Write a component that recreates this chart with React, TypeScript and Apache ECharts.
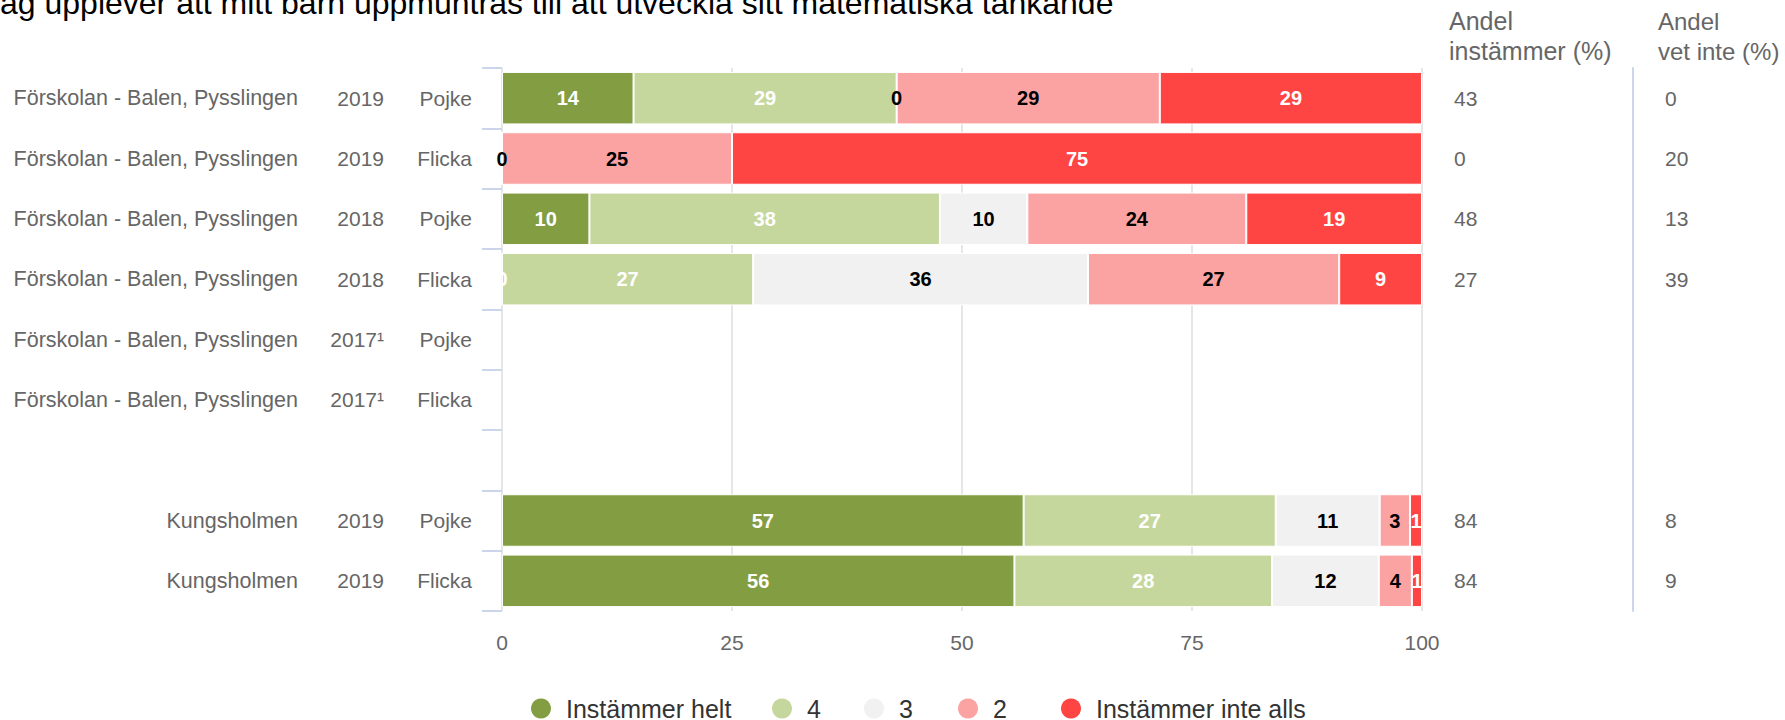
import React, { useEffect, useRef } from "react";
import * as echarts from "echarts";

const titleText = "Jag upplever att mitt barn uppmuntras till att utveckla sitt matematiska tänkande";

const schoolLabels = [
  "Förskolan - Balen, Pysslingen",
  "Förskolan - Balen, Pysslingen",
  "Förskolan - Balen, Pysslingen",
  "Förskolan - Balen, Pysslingen",
  "Förskolan - Balen, Pysslingen",
  "Förskolan - Balen, Pysslingen",
  "",
  "Kungsholmen",
  "Kungsholmen",
];
const yearLabels = ["2019", "2019", "2018", "2018", "2017¹", "2017¹", "", "2019", "2019"];
const genderLabels = ["Pojke", "Flicka", "Pojke", "Flicka", "Pojke", "Flicka", "", "Pojke", "Flicka"];

const seriesNames = ["Instämmer helt", "4", "3", "2", "Instämmer inte alls"];
const seriesColors = ["#839e42", "#c5d79d", "#f1f1f1", "#faa3a2", "#ff4444"];
const labelColors = ["#ffffff", "#ffffff", "#000000", "#000000", "#ffffff"];

// values per row (percent); null = no data
const helt = [14.3, 0, 9.5, 0, null, null, null, 56.7, 55.7];
const fyra = [28.6, 0, 38.1, 27.3, null, null, null, 27.4, 28.0];
const tre = [0, 0, 9.5, 36.4, null, null, null, 11.3, 11.6];
const tva = [28.6, 25, 23.8, 27.3, null, null, null, 3.3, 3.6];
const inteAlls = [28.5, 75, 19.1, 9.0, null, null, null, 1.3, 1.1];

const andelInstammer = ["43", "0", "48", "27", "", "", "", "84", "84"];
const andelVetInte = ["0", "20", "13", "39", "", "", "", "8", "9"];

const xTicks = { min: 0, max: 100, interval: 25 };

const FONT = "'Liberation Sans', Arial, Helvetica, sans-serif";

export default function App() {
  const ref = useRef<HTMLDivElement>(null);

  useEffect(() => {
    if (!ref.current) return;
    const chart = echarts.init(ref.current, null, { renderer: "svg" });
    const allData = [helt, fyra, tre, tva, inteAlls];

    const legendLefts = [531, 772, 864, 958, 1061];

    const catAxisBase = {
      type: "category" as const,
      inverse: true,
      gridIndex: 0,
      axisLine: { show: false },
      axisTick: { show: false },
      splitLine: { show: false },
    };

    const option: any = {
      animation: false,
      textStyle: { fontFamily: FONT },
      grid: { left: 502, right: 363, top: 68, bottom: 109, containLabel: false },
      xAxis: {
        type: "value",
        min: xTicks.min,
        max: xTicks.max,
        interval: xTicks.interval,
        axisLine: { show: false },
        axisTick: { show: false },
        axisLabel: { color: "#666666", fontSize: 21, margin: 21, fontFamily: FONT },
        splitLine: { show: true, lineStyle: { color: "#e6e6e6", width: 2 } },
      },
      yAxis: [
        {
          type: "category",
          inverse: true,
          data: genderLabels,
          position: "left",
          axisLine: { show: false },
          axisTick: { show: true, length: 20, lineStyle: { color: "#ccd6eb", width: 2 } },
          axisLabel: { color: "#666666", fontSize: 21, margin: 30, interval: 0, fontFamily: FONT },
          splitLine: { show: false },
        },
        {
          ...catAxisBase,
          data: yearLabels,
          position: "left",
          offset: 118,
          axisLabel: { color: "#666666", fontSize: 21, margin: 0, interval: 0, fontFamily: FONT },
        },
        {
          ...catAxisBase,
          data: schoolLabels,
          position: "left",
          offset: 204,
          axisLabel: { color: "#666666", fontSize: 21.5, margin: 0, interval: 0, fontFamily: FONT },
        },
        {
          ...catAxisBase,
          data: andelInstammer,
          position: "right",
          offset: 0,
          axisLabel: { color: "#666666", fontSize: 21, margin: 32, interval: 0, fontFamily: FONT },
        },
        {
          ...catAxisBase,
          data: andelVetInte,
          position: "right",
          offset: 211,
          axisLine: { show: true, lineStyle: { color: "#ccd6eb", width: 2 } },
          axisLabel: { color: "#666666", fontSize: 21, margin: 32, interval: 0, fontFamily: FONT },
        },
      ],
      legend: seriesNames.map((name, i) => ({
        data: [{ name, icon: "circle", itemStyle: { color: seriesColors[i], borderWidth: 0 } }],
        left: legendLefts[i],
        top: 696,
        padding: 0,
        itemWidth: 40,
        itemHeight: 20,
        textStyle: { color: "#333333", fontSize: 25, fontFamily: FONT },
        selectedMode: false,
      })),
      series: seriesNames.map((name, i) => ({
        name,
        type: "bar",
        stack: "total",
        xAxisIndex: 0,
        yAxisIndex: 0,
        barCategoryGap: "13%",
        data: allData[i].map((v) => (v === null ? "-" : v)),
        itemStyle: { color: seriesColors[i], borderColor: "#ffffff", borderWidth: 1 },
        label: {
          show: true,
          position: "inside",
          color: labelColors[i],
          fontSize: 20,
          fontWeight: "bold",
          fontFamily: FONT,
          formatter: (p: any) => String(Math.round(p.value)),
        },
        silent: true,
      })),
      graphic: [
        {
          type: "text",
          x: -16,
          y: 3,
          style: {
            text: titleText,
            fill: "#000000",
            font: `32px ${FONT}`,
            verticalAlign: "middle",
            align: "left",
          },
        },
        {
          type: "text",
          x: 1449,
          y: 21,
          style: { text: "Andel", fill: "#666666", font: `25px ${FONT}`, verticalAlign: "middle", align: "left" },
        },
        {
          type: "text",
          x: 1449,
          y: 51,
          style: { text: "instämmer (%)", fill: "#666666", font: `25px ${FONT}`, verticalAlign: "middle", align: "left" },
        },
        {
          type: "text",
          x: 1658,
          y: 21,
          style: { text: "Andel", fill: "#666666", font: `24px ${FONT}`, verticalAlign: "middle", align: "left" },
        },
        {
          type: "text",
          x: 1658,
          y: 51,
          style: { text: "vet inte (%)", fill: "#666666", font: `24px ${FONT}`, verticalAlign: "middle", align: "left" },
        },
      ],
    };

    chart.setOption(option);
    return () => {
      chart.dispose();
    };
  }, []);

  return (
    <div
      ref={ref}
      style={{ position: "absolute", left: 0, top: 0, width: 1785, height: 720, background: "#ffffff" }}
    />
  );
}
